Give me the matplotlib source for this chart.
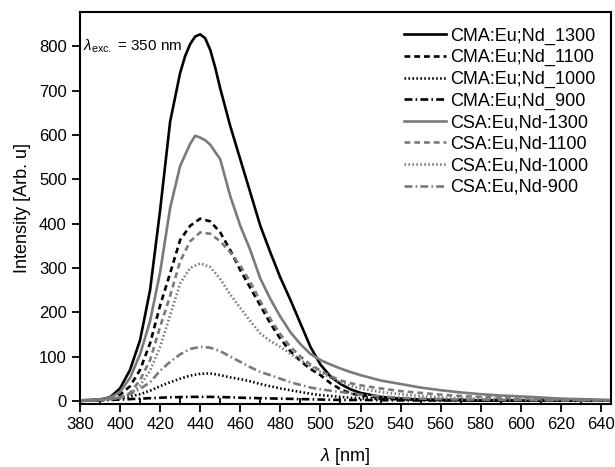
import matplotlib
matplotlib.use("Agg")
import matplotlib.pyplot as plt

plt.rcParams['font.family'] = ['Liberation Sans', 'DejaVu Sans']
plt.rcParams['mathtext.fontset'] = 'custom'
plt.rcParams['mathtext.rm'] = 'Liberation Sans'
plt.rcParams['mathtext.it'] = 'Liberation Sans:italic'

# --- data (wavelength nm, intensity arb. u.) ---
wl = [380, 385, 390, 395, 400, 405, 410, 415, 420, 425, 430, 435, 440, 445, 450, 455,
      460, 465, 470, 475, 480, 485, 490, 495, 500, 505, 510, 515, 520, 530, 540, 550,
      560, 570, 580, 590, 600, 620, 645]

# the strongest curve was read a bit more finely round its peak
wl_cma1300 = [380, 385, 390, 395, 400, 405, 410, 415, 420, 425, 430, 432.5, 435, 437.5, 440,
              442.5, 445, 447.5, 450, 455, 460, 465, 470, 475, 480, 485, 490, 495, 500, 505,
              510, 515, 520, 530, 540, 550, 560, 580, 600, 645]
cma1300 = [1, 2, 3, 8, 28, 70, 137, 250, 430, 630, 740, 778, 805, 822, 827,
           818, 792, 752, 705, 620, 545, 470, 395, 335, 278, 228, 175, 122, 82, 55,
           38, 26, 18, 9, 5, 3, 2, 1, 1, 0.5]

wl_csa1300 = [380, 385, 390, 395, 400, 405, 410, 415, 420, 425, 430, 435, 437.5, 440, 442.5,
              445, 450, 455, 460, 465, 470, 475, 480, 485, 490, 495, 500, 505, 510, 515, 520,
              530, 540, 550, 560, 570, 580, 590, 600, 620, 645]
csa1300 = [1, 2, 3, 7, 20, 52, 105, 180, 290, 435, 530, 580, 598, 594, 588,
           578, 545, 462, 395, 340, 276, 230, 190, 155, 128, 106, 92, 82, 73, 65, 58,
           46, 38, 30, 24, 19, 15, 12, 10, 5, 2]

cma1100 = [0, 1, 2, 5, 14, 33, 70, 130, 215, 288, 363, 395, 411, 405, 380, 340,
           295, 255, 215, 175, 140, 112, 90, 72, 58, 40, 26, 17, 12, 7, 4, 3,
           2, 2, 1, 1, 1, 0.5, 0.5]
csa1100 = [0, 1, 2, 4, 8, 18, 47, 92, 167, 237, 315, 360, 380, 377, 360, 335,
           305, 268, 225, 185, 150, 122, 100, 82, 68, 56, 46, 40, 35, 28, 22, 18,
           14, 11, 9, 7, 5, 3, 1]
cma1000 = [0, 1, 2, 3, 6, 10, 15, 23, 33, 42, 50, 57, 61, 62, 58, 53,
           49, 44, 38, 33, 28, 24, 20, 16, 13, 11, 9, 7, 6, 4, 3, 2,
           2, 2, 1, 1, 1, 0.5, 0.5]
csa1000 = [0, 1, 2, 3, 6, 15, 35, 68, 122, 193, 265, 300, 310, 302, 275, 240,
           210, 180, 152, 135, 122, 106, 92, 78, 65, 52, 42, 34, 28, 20, 15, 11,
           8, 6, 5, 4, 3, 2, 1]
cma900 = [0, 0.5, 1, 2, 3, 4, 5, 6, 7, 8, 8.5, 9, 9, 9, 8.5, 8,
          7, 6.5, 6, 5.5, 5, 4.5, 4, 3.5, 3, 2.5, 2, 2, 2, 1.5, 1, 1,
          1, 1, 1, 1, 0.5, 0.5, 0.5]
csa900 = [0, 1, 2, 4, 8, 15, 27, 42, 68, 88, 105, 117, 122, 120, 112, 100,
          88, 76, 65, 58, 50, 42, 36, 30, 26, 23, 20, 17, 14, 10, 7, 5,
          4, 3, 3, 2, 2, 1, 1]

black = '#000000'
grey = '#7a7a7a'

fig = plt.figure(figsize=(6.15, 4.67), dpi=100)
ax = fig.add_axes([0.130, 0.135, 0.8635, 0.839])

ax.plot(wl_cma1300, cma1300, color=black, lw=1.9, label='CMA:Eu;Nd_1300')
ax.plot(wl, cma1100, color=black, lw=1.9, dashes=(2.2, 1.5), label='CMA:Eu;Nd_1100')
ax.plot(wl, cma1000, color=black, lw=1.9, dashes=(0.6, 0.9), label='CMA:Eu;Nd_1000')
ax.plot(wl, cma900, color=black, lw=1.9, dashes=(3.0, 1.2, 0.6, 1.2), label='CMA:Eu;Nd_900')
ax.plot(wl_csa1300, csa1300, color=grey, lw=1.9, label='CSA:Eu,Nd-1300')
ax.plot(wl, csa1100, color=grey, lw=1.9, dashes=(2.2, 1.5), label='CSA:Eu,Nd-1100')
ax.plot(wl, csa1000, color=grey, lw=1.9, dashes=(0.6, 0.9), label='CSA:Eu,Nd-1000')
ax.plot(wl, csa900, color=grey, lw=1.9, dashes=(3.0, 1.2, 0.6, 1.2), label='CSA:Eu,Nd-900')

ax.set_xlim(380, 645)
ax.set_ylim(-7, 877)
ax.set_xticks(range(380, 641, 20))
ax.set_xticks(range(390, 641, 20), minor=True)
ax.set_yticks(range(0, 801, 100))
ax.tick_params(axis='both', which='major', direction='out', length=6, width=1.3, labelsize=12)
ax.tick_params(axis='x', which='minor', direction='in', length=4, width=1.3)
for sp in ax.spines.values():
    sp.set_linewidth(1.5)

ax.set_xlabel(r'$\lambda$ [nm]', fontsize=13, labelpad=10)
ax.set_ylabel('Intensity [Arb. u]', fontsize=13, labelpad=6)

ax.text(0.006, 0.913, r'$\lambda_{\rm exc.}$ = 350 nm', transform=ax.transAxes,
        fontsize=11, va='center', ha='left')

ax.legend(loc='upper right', frameon=False, fontsize=13, handlelength=2.3,
          handletextpad=0.25, labelspacing=0.25, borderaxespad=0.45)

fig.savefig('out.png', dpi=100)
